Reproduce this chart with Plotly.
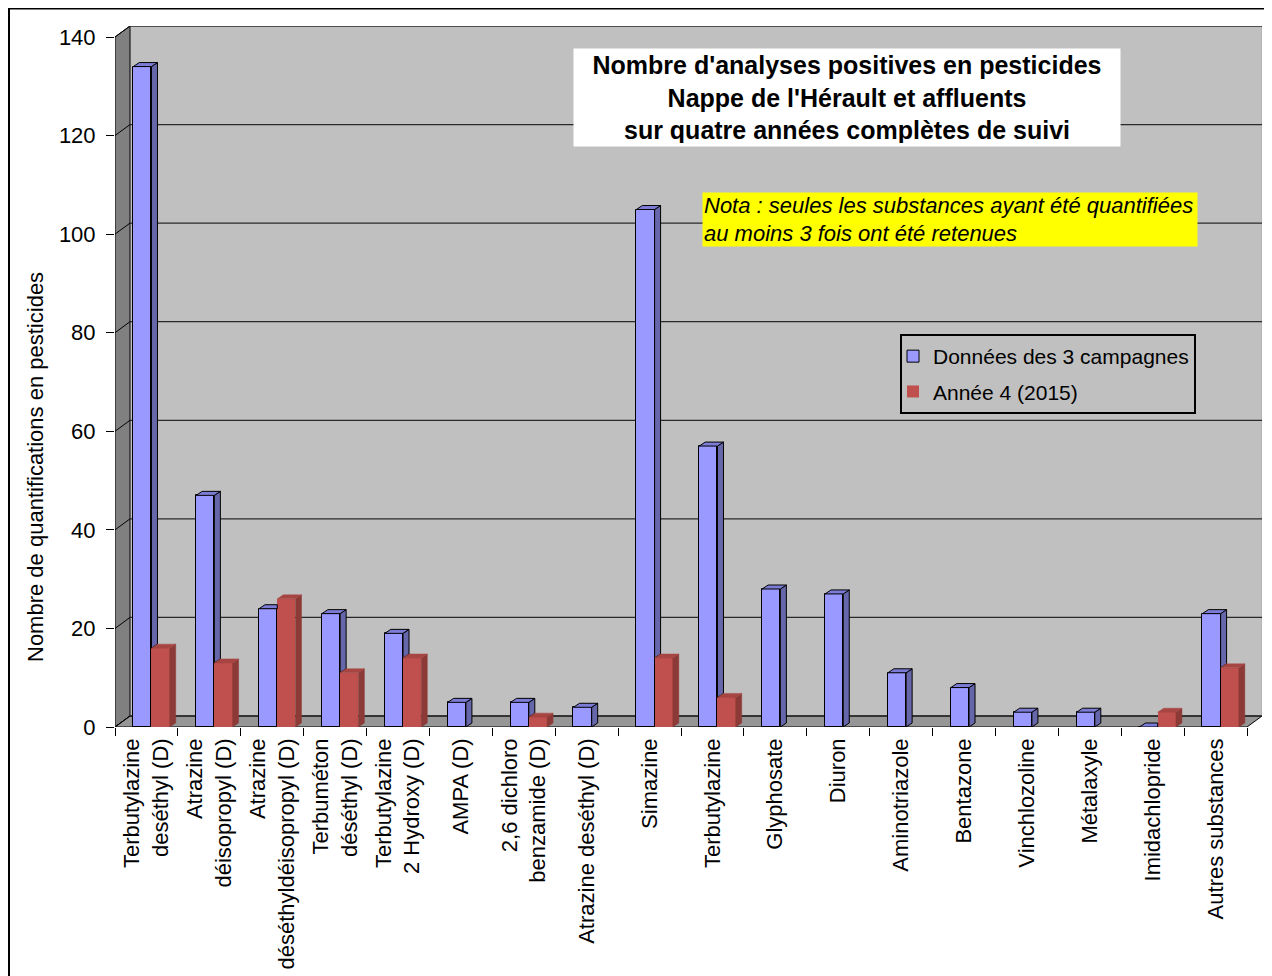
import plotly.graph_objects as go

# ---------------- data ----------------
categories = [
    "Terbutylazine<br>deséthyl (D)",
    "Atrazine<br>déisopropyl (D)",
    "Atrazine<br>déséthyldéisopropyl (D)",
    "Terbuméton<br>déséthyl (D)",
    "Terbutylazine<br>2 Hydroxy (D)",
    "AMPA (D)",
    "2,6 dichloro<br>benzamide (D)",
    "Atrazine deséthyl (D)",
    "Simazine",
    "Terbutylazine",
    "Glyphosate",
    "Diuron",
    "Aminotriazole",
    "Bentazone",
    "Vinchlozoline",
    "Métalaxyle",
    "Imidachlopride",
    "Autres substances",
]
campagnes_3 = [134, 47, 24, 23, 19, 5, 5, 4, 105, 57, 28, 27, 11, 8, 3, 3, 0, 23]
annee_4 = [16, 13, 26, 11, 14, None, 2, None, 14, 6, None, None, None, None, None, None, 3, 12]
y_ticks = [0, 20, 40, 60, 80, 100, 120, 140]
series_names = ["Données des 3 campagnes", "Année 4 (2015)"]

# ---------------- geometry / style ----------------
W, H = 1272, 976
PAGE = 8                                      # page body margin of the html
ML, MT = 115 - PAGE, 26 - PAGE
MR = W - (1262 - PAGE)
MB = H - (727 - PAGE)
PW, PH = W - ML - MR, H - MT - MB
CAT_PX = (1247 - 115) / len(categories)       # pixels per category
Y_PX = (727 - 37) / 140.0                     # pixels per unit
XMIN = -0.5
XMAX = XMIN + PW / CAT_PX
YMAX = PH / Y_PX
WDX, WDY = 15 / CAT_PX, 11 / Y_PX            # wall depth
BDX, BDY = 6 / CAT_PX, 4 / Y_PX              # bar depth
BAR_W = 0.29
BLUE_OFF = -0.21
RED_OFF = BLUE_OFF + BAR_W

FONT = "Liberation Sans, Arial, sans-serif"
BLUE, BLUE_SIDE, BLUE_TOP = "#9999FF", "#6666AA", "#7C7CD6"
RED, RED_SIDE, RED_TOP = "#C0504D", "#8C3A37", "#A64542"

idx = list(range(len(categories)))

fig = go.Figure()
fig.add_trace(go.Bar(
    x=idx, y=campagnes_3, name=series_names[0], width=BAR_W, offset=BLUE_OFF,
    marker=dict(color=BLUE, line=dict(color="black", width=1)),
    legendgroup="a"))
fig.add_trace(go.Bar(
    x=idx, y=annee_4, name=series_names[1], width=BAR_W, offset=RED_OFF,
    marker=dict(color=RED, line=dict(color=RED, width=0)),
    legendgroup="b"))

# 3D faces computed from the data
def add_poly(xs, ys, pts):
    for (px, py) in pts:
        xs.append(px)
        ys.append(py)
    xs.append(pts[0][0]); ys.append(pts[0][1])
    xs.append(None); ys.append(None)

bs_x, bs_y, bt_x, bt_y = [], [], [], []
rs_x, rs_y, rt_x, rt_y = [], [], [], []
for i, v in enumerate(campagnes_3):
    r = annee_4[i]
    x0 = i + BLUE_OFF
    x1 = x0 + BAR_W
    rb = r if r is not None else 0
    if v is not None:
        if rb < v:
            add_poly(bs_x, bs_y, [(x1, rb), (x1 + BDX, rb + BDY), (x1 + BDX, v + BDY), (x1, v)])
        if r is not None and r >= v + BDY:
            add_poly(bt_x, bt_y, [(x0, v), (x0 + BDX, v + BDY), (x1, v + BDY), (x1, v)])
        else:
            add_poly(bt_x, bt_y, [(x0, v), (x0 + BDX, v + BDY), (x1 + BDX, v + BDY), (x1, v)])
    if r is not None:
        rx0 = i + RED_OFF
        rx1 = rx0 + BAR_W
        add_poly(rs_x, rs_y, [(rx1, 0), (rx1 + BDX, BDY), (rx1 + BDX, r + BDY), (rx1, r)])
        add_poly(rt_x, rt_y, [(rx0, r), (rx0 + BDX, r + BDY), (rx1 + BDX, r + BDY), (rx1, r)])

for xs, ys, fc, lc, lw in [
    (bs_x, bs_y, BLUE_SIDE, "black", 1),
    (bt_x, bt_y, BLUE_TOP, "black", 1),
    (rs_x, rs_y, RED_SIDE, RED_SIDE, 0.5),
    (rt_x, rt_y, RED_TOP, RED_TOP, 0.5),
]:
    fig.add_trace(go.Scatter(x=xs, y=ys, mode="lines", fill="toself", fillcolor=fc,
                             line=dict(color=lc, width=lw), showlegend=False,
                             hoverinfo="skip"))

# walls, floor, gridlines
shapes = []
shapes.append(dict(type="rect", xref="x", yref="y", x0=XMIN + WDX, x1=XMAX, y0=WDY, y1=YMAX,
                   fillcolor="#C0C0C0", line=dict(width=0), layer="below"))
shapes.append(dict(type="path", xref="x", yref="y",
                   path=f"M {XMIN},0 L {XMIN + WDX},{WDY} L {XMIN + WDX},{140 + WDY} L {XMIN},{140} Z",
                   fillcolor="#808080", line=dict(color="black", width=1), layer="below"))
shapes.append(dict(type="path", xref="x", yref="y",
                   path=f"M {XMIN},0 L {XMIN + WDX},{WDY} L {XMAX},{WDY} L {XMIN + len(categories)},0 Z",
                   fillcolor="#969696", line=dict(color="black", width=1), layer="below"))
shapes.append(dict(type="line", xref="x", yref="y", x0=XMAX, x1=XMAX, y0=WDY, y1=YMAX,
                   line=dict(color="#A8A8A8", width=1), layer="below"))
for t in y_ticks:
    shapes.append(dict(type="line", xref="x", yref="y", x0=XMIN + WDX, x1=XMAX, y0=t + WDY, y1=t + WDY,
                       line=dict(color="#2A2A2A", width=1.3), layer="below"))
    shapes.append(dict(type="line", xref="x", yref="y", x0=XMIN, x1=XMIN + WDX, y0=t, y1=t + WDY,
                       line=dict(color="black", width=1), layer="below"))


def px_x(p):
    """reference-image pixel -> paper x"""
    return (p - PAGE - ML) / PW


def px_y(p):
    """reference-image pixel -> paper y"""
    return 1 - (p - PAGE - MT) / PH


# outer frame of the chart
shapes.append(dict(type="rect", xref="paper", yref="paper",
                   x0=px_x(9), x1=px_x(1300), y0=px_y(1010), y1=px_y(8.5),
                   line=dict(color="black", width=2), fillcolor="rgba(0,0,0,0)", layer="below"))

annotations = [
    dict(text="<b>Nombre d'analyses positives en pesticides<br>Nappe de l'Hérault et affluents<br>"
              "sur quatre années complètes de suivi</b>",
         xref="paper", yref="paper", x=px_x(847), y=px_y(97.5), xanchor="center", yanchor="middle",
         showarrow=False, align="center", bgcolor="white", borderpad=3, width=540, height=91,
         font=dict(family=FONT, size=25, color="black")),
    dict(text="<i>Nota : seules les substances ayant été quantifiées<br>au moins 3 fois ont été retenues</i>",
         xref="paper", yref="paper", x=px_x(702), y=px_y(192), xanchor="left", yanchor="top",
         showarrow=False, align="left", bgcolor="#FFFF00", borderpad=1, width=492, height=51,
         font=dict(family=FONT, size=22, color="black")),
    dict(text="Nombre de quantifications en pesticides", textangle=-90,
         xref="paper", yref="paper", x=px_x(35), y=px_y(467), xanchor="center", yanchor="middle",
         showarrow=False, font=dict(family=FONT, size=22, color="black")),
]

fig.update_layout(
    width=W, height=H,
    margin=dict(l=ML, r=MR, t=MT, b=MB),
    paper_bgcolor="white", plot_bgcolor="white",
    barmode="overlay", bargap=0,
    font=dict(family=FONT, size=22, color="black"),
    shapes=shapes, annotations=annotations,
    legend=dict(x=px_x(900), y=px_y(334), xanchor="left", yanchor="top",
                bgcolor="rgba(0,0,0,0)", bordercolor="black", borderwidth=2,
                font=dict(family=FONT, size=21, color="black"),
                tracegroupgap=5, traceorder="grouped", indentation=-9),
    xaxis=dict(range=[XMIN, XMAX], tickmode="array", tickvals=idx, ticktext=categories,
               tickangle=-90, ticks="", showgrid=False, zeroline=False, showline=False,
               ticklabelstandoff=6,
               tickfont=dict(family=FONT, size=22, color="black"),
               minor=dict(tickmode="array", tickvals=[k - 0.5 for k in range(len(categories) + 1)],
                          ticks="outside", ticklen=8, tickcolor="black", tickwidth=1, showgrid=False)),
    yaxis=dict(range=[0, YMAX], tickmode="array", tickvals=y_ticks, ticks="outside", ticklen=8,
               tickcolor="black", showgrid=False, zeroline=False, showline=False,
               ticklabelstandoff=6,
               tickfont=dict(family=FONT, size=22, color="black")),
)

fig.write_html("out.html")
